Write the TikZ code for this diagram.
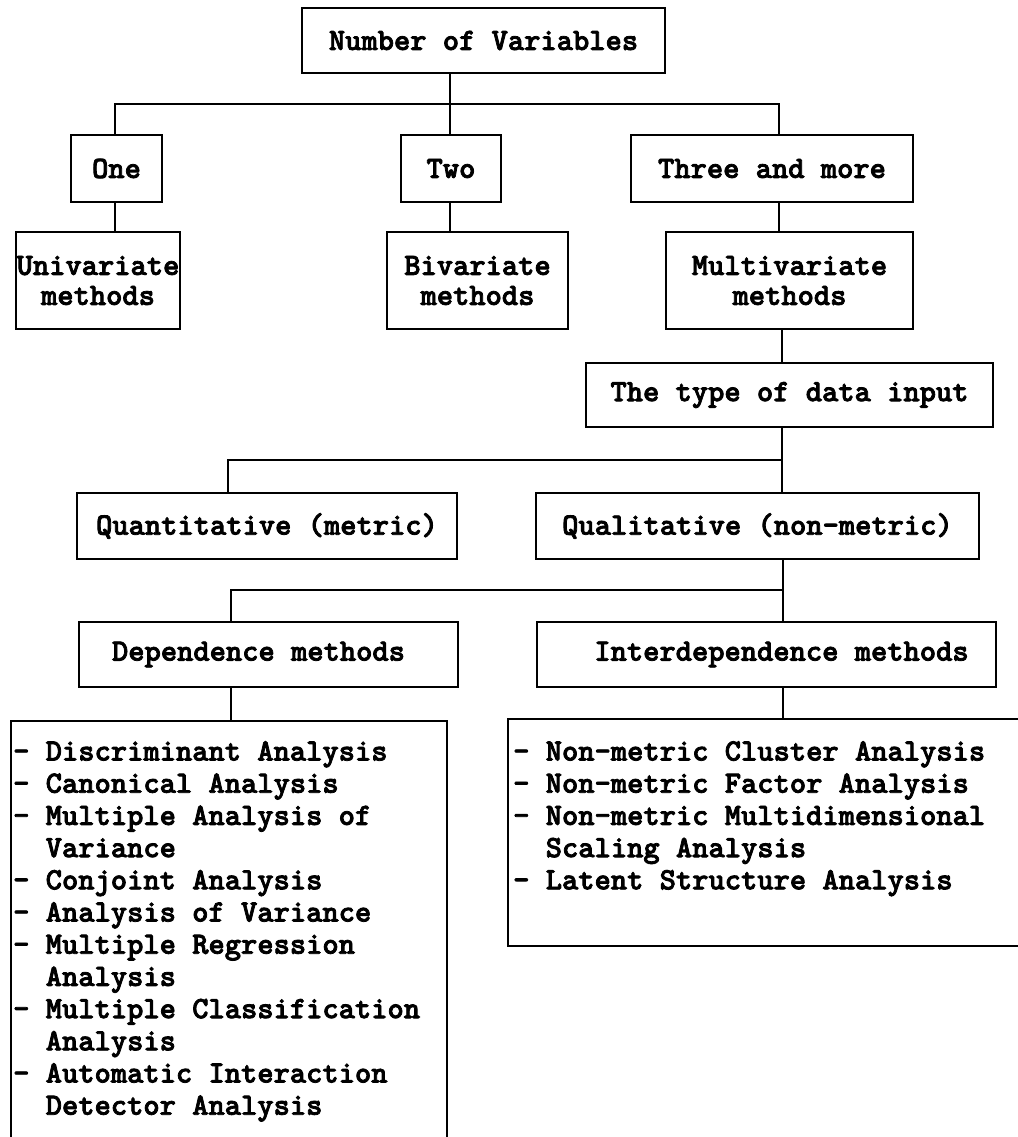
\documentclass[tikz,border=0pt]{standalone}
\usepackage{fontspec}
\newfontfamily\typewriter[FakeBold=2.5]{lmmonolt10-bold.otf}
\begin{document}
\begin{tikzpicture}[x=1pt,y=-1pt,
  every node/.style={font=\typewriter\fontsize{31}{32.2}\selectfont},
  box/.style={draw, line width=2.4pt, inner sep=0pt},
  twoline/.style={box, align=center, font=\typewriter\fontsize{31}{30}\selectfont},
  listtext/.style={align=left, inner sep=0pt, anchor=north west},
  conn/.style={line width=2.4pt, line join=miter}]
\useasboundingbox (0,0) rectangle (1017,1137);

% boxes of the tree
\node[box, minimum width=363, minimum height=65] (nv) at (483.5,40.5) {Number of Variables};
\node[box, minimum width=91,  minimum height=67] (one) at (116.5,168.5) {One};
\node[box, minimum width=100, minimum height=67] (two) at (451,168.5) {Two};
\node[box, minimum width=282, minimum height=67] (three) at (772,168.5) {Three and more};
\node[twoline, minimum width=164, minimum height=97] (uni) at (98,280.5) {Univariate\\methods};
\node[twoline, minimum width=181, minimum height=97] (bi) at (477.5,280.5) {Bivariate\\methods};
\node[twoline, minimum width=247, minimum height=97] (multi) at (789.5,280.5) {Multivariate\\methods};
\node[box, minimum width=407, minimum height=64] (type) at (789.5,395) {The type of data input};
\node[box, minimum width=380, minimum height=66] (quant) at (267,526) {Quantitative (metric)};
\node[box, minimum width=443, minimum height=66] (qual) at (757.5,526) {Qualitative (non-metric)};
\node[box, minimum width=379, minimum height=65] (dep) at (268.5,654.5) {Dependence methods\hspace*{20pt}};
\node[box, minimum width=459, minimum height=65] (inter) at (766.5,654.5) {\hspace*{30pt}Interdependence methods};

% list frames (running off the page)
\node[box, minimum width=436, minimum height=440, anchor=north west] (deplist) at (10,720) {};
\node[box, minimum width=530, minimum height=227, anchor=north west] (interlist) at (507,718) {};

\node[listtext] (deptext) at (13,741) {%
- Discriminant Analysis\\
- Canonical Analysis\\
- Multiple Analysis of\\
\hphantom{- }Variance\\
- Conjoint Analysis\\
- Analysis of Variance\\
- Multiple Regression\\
\hphantom{- }Analysis\\
- Multiple Classification\\
\hphantom{- }Analysis\\
- Automatic Interaction\\
\hphantom{- }Detector Analysis};

\node[listtext] (intertext) at (513,741) {%
- Non-metric Cluster Analysis\\
- Non-metric Factor Analysis\\
- Non-metric Multidimensional\\
\hphantom{- }Scaling Analysis\\
- Latent Structure Analysis};

% junction points of the connectors
\coordinate (j1)  at (450,104);
\coordinate (j1l) at (115,104);
\coordinate (j1r) at (779,104);
\coordinate (j2)  at (782,460);
\coordinate (j2l) at (228,460);
\coordinate (j3)  at (783,590);
\coordinate (j3l) at (231,590);

% connectors
\draw[conn] (nv.south -| j1) -- (two.north -| j1);
\draw[conn] (one.north -| j1l) -- (j1l) -- (j1r) -- (three.north -| j1r);
\draw[conn] (one.south -| j1l) -- (uni.north -| j1l);
\draw[conn] (two.south -| j1) -- (bi.north -| j1);
\draw[conn] (three.south -| j1r) -- (multi.north -| j1r);
\draw[conn] (multi.south -| j2) -- (type.north -| j2);
\draw[conn] (type.south -| j2) -- (qual.north -| j2);
\draw[conn] (quant.north -| j2l) -- (j2l) -- (j2);
\draw[conn] (qual.south -| j3) -- (inter.north -| j3);
\draw[conn] (dep.north -| j3l) -- (j3l) -- (j3);
\draw[conn] (dep.south -| j3l) -- (deplist.north -| j3l);
\draw[conn] (inter.south -| j3) -- (interlist.north -| j3);
\end{tikzpicture}
\end{document}
